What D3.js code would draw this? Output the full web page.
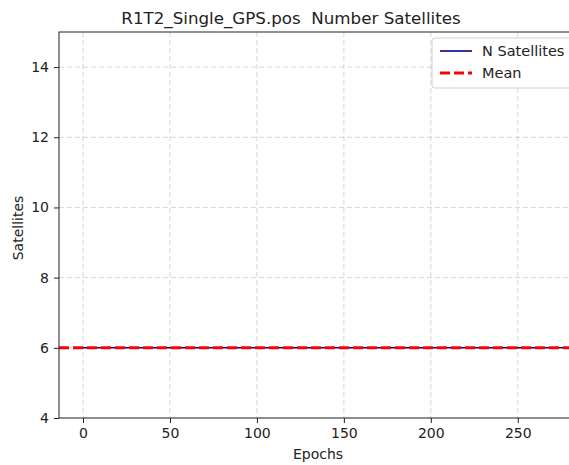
<!DOCTYPE html>
<html>
<head>
<meta charset="utf-8">
<script src="https://cdn.jsdelivr.net/npm/d3@7"></script>
<style>
  html, body { margin: 0; padding: 0; background: #fff; }
  svg { display: block; font-family: "DejaVu Sans", sans-serif; }
</style>
</head>
<body>
<svg id="chart" width="569" height="465"></svg>
<script>
// Satellite count per epoch, stored as runs of constant value
const satelliteRuns = [
  { start: 0, end: 276, count: 6 }
];
const meanSatellites = 6;

const xTicks = [0, 50, 100, 150, 200, 250];
const yTicks = [4, 6, 8, 10, 12, 14];
const xDomain = [-13.8, 289.8];
const yDomain = [4, 15];

const titleText = "R1T2_Single_GPS.pos  Number Satellites";
const xLabel = "Epochs";
const yLabel = "Satellites";
const legendLabels = ["N Satellites", "Mean"];

const svg = d3.select("#chart");
const plot = { left: 59, right: 587, top: 32, bottom: 418 };

const x = d3.scaleLinear().domain(xDomain).range([plot.left, plot.right]);
const y = d3.scaleLinear().domain(yDomain).range([plot.bottom, plot.top]);

// expand runs into line vertices
const points = [];
satelliteRuns.forEach(r => {
  points.push([r.start, r.count]);
  points.push([r.end, r.count]);
});

svg.append("defs").append("clipPath").attr("id", "plotclip")
  .append("rect")
  .attr("x", plot.left).attr("y", plot.top)
  .attr("width", plot.right - plot.left).attr("height", plot.bottom - plot.top);

// grid
const grid = svg.append("g").attr("clip-path", "url(#plotclip)");
grid.selectAll("line.vx").data(xTicks).join("line")
  .attr("x1", d => x(d)).attr("x2", d => x(d))
  .attr("y1", plot.top).attr("y2", plot.bottom)
  .attr("stroke", "#b0b0b0").attr("stroke-opacity", 0.5)
  .attr("stroke-width", 1).attr("stroke-dasharray", "5,3");
grid.selectAll("line.hy").data(yTicks).join("line")
  .attr("x1", plot.left).attr("x2", plot.right)
  .attr("y1", d => y(d)).attr("y2", d => y(d))
  .attr("stroke", "#b0b0b0").attr("stroke-opacity", 0.5)
  .attr("stroke-width", 1).attr("stroke-dasharray", "5,3");

// data lines
const marks = svg.append("g").attr("clip-path", "url(#plotclip)");
const line = d3.line().x(d => x(d[0])).y(d => y(d[1]));
marks.append("path").datum(points)
  .attr("d", line)
  .attr("fill", "none").attr("stroke", "#00008b").attr("stroke-width", 1.6);
marks.append("line")
  .attr("x1", plot.left).attr("x2", plot.right)
  .attr("y1", y(meanSatellites)).attr("y2", y(meanSatellites))
  .attr("stroke", "#ff0000").attr("stroke-width", 3)
  .attr("stroke-dasharray", "10,4");

// axes
const xAxis = d3.axisBottom(x).tickValues(xTicks).tickSize(5).tickPadding(5);
const yAxis = d3.axisLeft(y).tickValues(yTicks).tickSize(5).tickPadding(5);

const gx = svg.append("g").attr("transform", `translate(0,${plot.bottom})`).call(xAxis);
const gy = svg.append("g").attr("transform", `translate(${plot.left},0)`).call(yAxis);
[gx, gy].forEach(g => {
  g.select(".domain").remove();
  g.selectAll(".tick line").attr("stroke", "#222").attr("stroke-width", 1);
  g.selectAll(".tick text").attr("fill", "#222").attr("font-size", 14)
    .attr("font-family", "DejaVu Sans, sans-serif");
});

// spines
svg.append("rect")
  .attr("x", plot.left).attr("y", plot.top)
  .attr("width", plot.right - plot.left).attr("height", plot.bottom - plot.top)
  .attr("fill", "none").attr("stroke", "#222").attr("stroke-width", 1);

// titles
svg.append("text").attr("x", 291).attr("y", 24)
  .attr("text-anchor", "middle").attr("font-size", 16.7).attr("fill", "#222")
  .style("white-space", "pre")
  .text(titleText);
svg.append("text").attr("x", 318).attr("y", 459)
  .attr("text-anchor", "middle").attr("font-size", 14).attr("fill", "#222")
  .text(xLabel);
svg.append("text")
  .attr("transform", `translate(23,${(plot.top + plot.bottom) / 2 + 3}) rotate(-90)`)
  .attr("text-anchor", "middle").attr("font-size", 14).attr("fill", "#222")
  .text(yLabel);

// legend
const lg = svg.append("g").attr("transform", "translate(432,38)");
lg.append("rect").attr("x", 0).attr("y", 0).attr("width", 150).attr("height", 50)
  .attr("rx", 3).attr("fill", "#fff").attr("fill-opacity", 0.85)
  .attr("stroke", "#d0d0d0").attr("stroke-width", 1);
const legendStyles = [
  { color: "#00008b", width: 1.6, dash: null },
  { color: "#ff0000", width: 3, dash: "10,4" }
];
legendLabels.forEach((lab, i) => {
  const yy = 13 + i * 22;
  lg.append("line").attr("x1", 8).attr("x2", 40).attr("y1", yy).attr("y2", yy)
    .attr("stroke", legendStyles[i].color).attr("stroke-width", legendStyles[i].width)
    .attr("stroke-dasharray", legendStyles[i].dash);
  lg.append("text").attr("x", 50).attr("y", yy + 5)
    .attr("font-size", 14.5).attr("fill", "#222").text(lab);
});
</script>
</body>
</html>
